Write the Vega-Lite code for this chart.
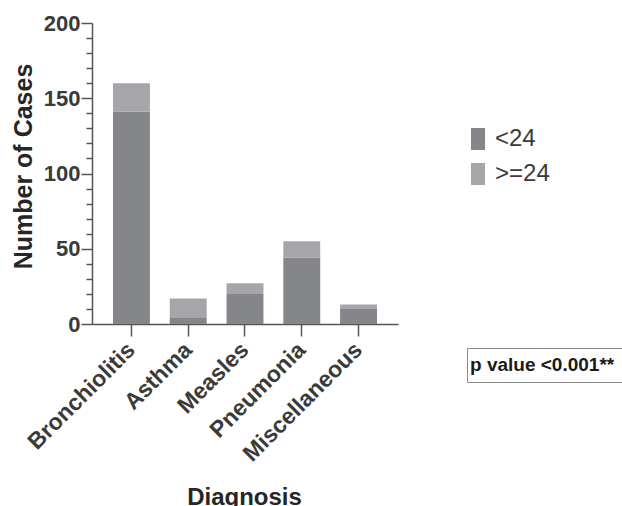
{
  "$schema": "https://vega.github.io/schema/vega-lite/v6.json",
  "autosize": {"type": "none"},
  "padding": {"left": 92, "top": 23, "right": 224, "bottom": 182},
  "width": 306,
  "height": 301,
  "config": {
    "view": {"stroke": null},
    "font": "Liberation Sans"
  },
  "layer": [
    {
      "data": {
        "values": [
          {"diagnosis": "Bronchiolitis", "age": "<24", "cases": 141},
          {"diagnosis": "Bronchiolitis", "age": ">=24", "cases": 19},
          {"diagnosis": "Asthma", "age": "<24", "cases": 4},
          {"diagnosis": "Asthma", "age": ">=24", "cases": 13},
          {"diagnosis": "Measles", "age": "<24", "cases": 20},
          {"diagnosis": "Measles", "age": ">=24", "cases": 7},
          {"diagnosis": "Pneumonia", "age": "<24", "cases": 44},
          {"diagnosis": "Pneumonia", "age": ">=24", "cases": 11},
          {"diagnosis": "Miscellaneous", "age": "<24", "cases": 10},
          {"diagnosis": "Miscellaneous", "age": ">=24", "cases": 3}
        ]
      },
      "mark": {"type": "bar"},
      "encoding": {
        "x": {
          "field": "diagnosis",
          "type": "nominal",
          "sort": ["Bronchiolitis", "Asthma", "Measles", "Pneumonia", "Miscellaneous"],
          "scale": {"paddingInner": 0.35, "paddingOuter": 0.37},
          "axis": {
            "title": "Diagnosis",
            "titleFont": "Liberation Sans",
            "titleFontSize": 24,
            "titleFontWeight": "bold",
            "titleColor": "#262626",
            "titleX": 152,
            "titleY": 180,
            "titleBaseline": "alphabetic",
            "labelAngle": -45,
            "labelAlign": "right",
            "labelBaseline": "middle",
            "labelFontSize": 23,
            "labelFontWeight": "bold",
            "labelColor": "#3a3a3a",
            "labelPadding": 10,
            "tickSize": 12,
            "tickWidth": 1.5,
            "tickColor": "#555555",
            "domainColor": "#555555",
            "domainWidth": 1.5
          }
        },
        "y": {
          "field": "cases",
          "type": "quantitative",
          "stack": "zero",
          "scale": {"domain": [0, 200], "nice": false},
          "axis": {
            "title": "Number of Cases",
            "titleFontSize": 25,
            "titleFontWeight": "bold",
            "titleColor": "#262626",
            "titleX": -69,
            "titleY": 143,
            "titleAlign": "center",
            "titleBaseline": "middle",
            "values": [0, 10, 20, 30, 40, 50, 60, 70, 80, 90, 100, 110, 120, 130, 140, 150, 160, 170, 180, 190, 200],
            "labelExpr": "datum.value % 50 === 0 ? datum.label : ''",
            "labelFontSize": 22,
            "labelFontWeight": "bold",
            "labelColor": "#3a3a3a",
            "labelPadding": 1,
            "tickSize": {"condition": {"test": "datum.value % 50 === 0", "value": 11}, "value": 6},
            "tickWidth": 1.5,
            "tickColor": "#555555",
            "domainColor": "#555555",
            "domainWidth": 1.5,
            "grid": false
          }
        },
        "color": {
          "field": "age",
          "type": "nominal",
          "scale": {"domain": ["<24", ">=24"], "range": ["#858689", "#a6a6aa"]},
          "legend": {
            "title": null,
            "orient": "none",
            "legendX": 374,
            "legendY": 104,
            "padding": 0,
            "symbolType": "M-0.64,-1H0.64V1H-0.64Z",
            "symbolSize": 484,
            "symbolStrokeWidth": 0,
            "labelFontSize": 24,
            "labelColor": "#3a3a3a",
            "labelOffset": 5,
            "rowPadding": 11
          }
        },
        "order": {"field": "age", "sort": "ascending"}
      }
    },
    {
      "data": {"values": [{"note": "p value <0.001**"}]},
      "mark": {"type": "point", "opacity": 0},
      "encoding": {
        "shape": {
          "field": "note",
          "type": "nominal",
          "legend": {
            "title": null,
            "orient": "none",
            "legendX": 375,
            "legendY": 325,
            "padding": 7,
            "strokeColor": "#8a8a8a",
            "symbolSize": 0.0001,
            "symbolOpacity": 0,
            "symbolStrokeWidth": 0,
            "labelOffset": -23,
            "labelFontSize": 19,
            "labelFontWeight": "bold",
            "labelColor": "#1a1a1a"
          }
        }
      }
    }
  ]
}
